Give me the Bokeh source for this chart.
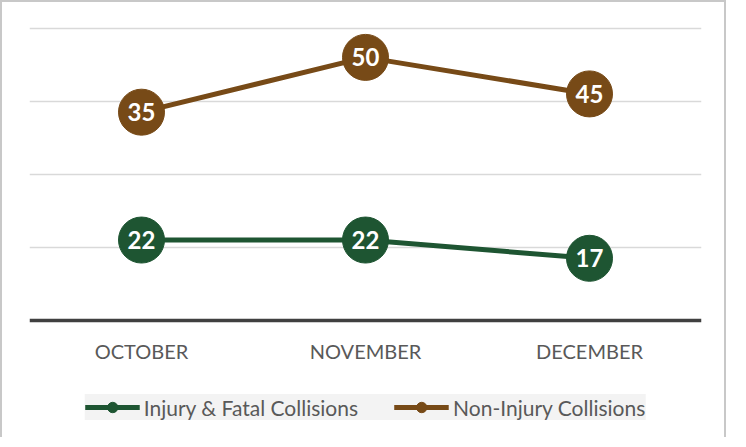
from bokeh.plotting import figure
from bokeh.models import ColumnDataSource, FactorRange, FixedTicker, Legend, LegendItem, Span
from bokeh.core.properties import value
from bokeh.embed import file_html
from bokeh.resources import INLINE

months = ["OCTOBER", "NOVEMBER", "DECEMBER"]
injury_fatal = [22, 22, 17]
non_injury = [35, 50, 45]
grid_ticks = [20, 40, 60, 80]

GREEN = "#1E5532"
BROWN = "#774A17"
FONT = "Lato"

stacked_top = [a + b for a, b in zip(injury_fatal, non_injury)]

src_g = ColumnDataSource(dict(x=months, y=injury_fatal, lbl=[str(v) for v in injury_fatal]))
src_b = ColumnDataSource(dict(x=months, y=stacked_top, lbl=[str(v) for v in non_injury]))
src_m = ColumnDataSource(dict(x=months, y=[0] * len(months), lbl=months))

p = figure(x_range=FactorRange(*months), y_range=(-32.6, 81),
           width=726, height=437, output_backend="svg", toolbar_location=None,
           x_axis_location=None, y_axis_location=None,
           min_border_left=27, min_border_right=27, min_border_top=22, min_border_bottom=0)
p.styles = {"border": "2px solid #c8c8c8", "border-bottom": "none"}
p.outline_line_color = None
p.background_fill_color = "white"
p.border_fill_color = "white"

p.xgrid.visible = False
p.ygrid.ticker = FixedTicker(ticks=grid_ticks)
p.ygrid.grid_line_color = "#d9d9d9"
p.ygrid.grid_line_width = 1.5

# category axis: baseline and month labels
p.add_layout(Span(location=0, dimension="width", line_color="#404040", line_width=3.5))
p.text("x", "y", text="lbl", source=src_m, y_offset=31, text_color="#595959",
       text_font=value(FONT), text_font_size="20px",
       text_align="center", text_baseline="middle")

lg = p.line("x", "y", source=src_g, line_color=GREEN, line_width=5)
lb = p.line("x", "y", source=src_b, line_color=BROWN, line_width=5)
sg = p.scatter("x", "y", source=src_g, size=46, fill_color=GREEN, line_color=GREEN)
sb = p.scatter("x", "y", source=src_b, size=46, fill_color=BROWN, line_color=BROWN)

for s in (src_g, src_b):
    p.text("x", "y", text="lbl", source=s, text_color="white", text_font=value(FONT),
           text_font_size="24px", text_font_style="bold",
           text_align="center", text_baseline="middle")

legend = Legend(items=[LegendItem(label="Injury & Fatal Collisions", renderers=[lg, sg]),
                       LegendItem(label="Non-Injury Collisions", renderers=[lb, sb])],
                orientation="horizontal", location="bottom_center",
                background_fill_color="#f3f3f3", background_fill_alpha=1,
                border_line_color=None, padding=12, margin=19, spacing=36,
                glyph_width=55, glyph_height=26, label_standoff=4, label_height=26,
                label_text_font=FONT, label_text_font_size="21px",
                label_text_color="#595959")
p.add_layout(legend, "center")

open("out.html", "w").write(file_html(p, INLINE))
